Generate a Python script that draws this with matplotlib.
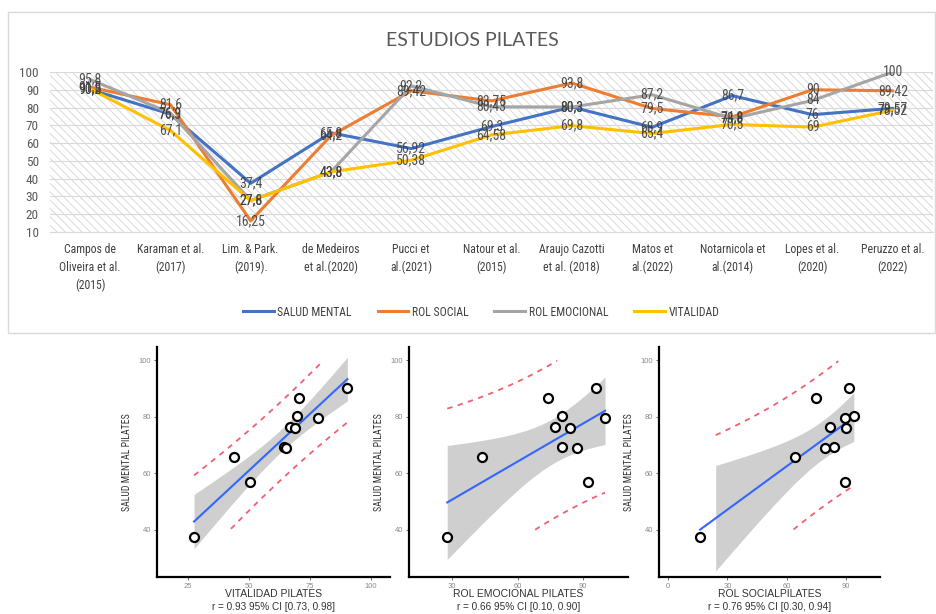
import numpy as np
import matplotlib
matplotlib.use("Agg")
import matplotlib.pyplot as plt
from matplotlib import font_manager as fm
from matplotlib.patches import Rectangle
from matplotlib.lines import Line2D


def first_font(*names):
    available = {f.name for f in fm.fontManager.ttflist}
    for n in names:
        if n in available:
            return n
    return "DejaVu Sans"


NARROW = first_font("Liberation Sans Narrow", "Roboto Condensed", "Liberation Sans")
SANS = first_font("Liberation Sans", "Arimo", "DejaVu Sans")
TITLE = first_font("Lato", "Open Sans", "Liberation Sans")

# ---- data -------------------------------------------------------------
estudios = [
    "Campos de\nOliveira et al.\n(2015)",
    "Karaman et al.\n(2017)",
    "Lim. & Park.\n(2019).",
    "de Medeiros\net al.(2020)",
    "Pucci et\nal.(2021)",
    "Natour et al.\n(2015)",
    "Araujo Cazotti\net al. (2018)",
    "Matos et\nal.(2022)",
    "Notarnicola et\nal.(2014)",
    "Lopes et al.\n(2020)",
    "Peruzzo et al.\n(2022)",
]
salud_mental = [90.2, 76.3, 37.4, 65.8, 56.92, 69.3, 80.3, 68.9, 86.7, 76, 79.57]
rol_social = [91.5, 81.6, 16.25, 64.2, 89.42, 83.75, 93.8, 79.5, 74.8, 90, 89.42]
rol_emocional = [95.8, 76.9, 27.8, 43.8, 92.2, 80.43, 80.3, 87.2, 73.8, 84, 100]
vitalidad = [90.5, 67.1, 27.6, 43.8, 50.38, 64.58, 69.8, 65.4, 70.5, 69, 78.52]

series_names = ["SALUD MENTAL", "ROL SOCIAL", "ROL EMOCIONAL", "VITALIDAD"]
series_values = [salud_mental, rol_social, rol_emocional, vitalidad]
series_colors = ["#4472C4", "#ED7D31", "#A5A5A5", "#FFC000"]

# correlation summaries printed under each scatter panel
r_labels = [
    "r = 0.93 95% CI [0.73, 0.98]",
    "r = 0.66 95% CI [0.10, 0.90]",
    "r = 0.76 95% CI [0.30, 0.94]",
]

W, H = 937, 614


def fx(px):
    return px / W


def fy(py):
    return 1 - py / H


fig = plt.figure(figsize=(W / 100, H / 100), dpi=100)
fig.patch.set_facecolor("white")

# ---- top panel: line chart -------------------------------------------
fig.patches.append(Rectangle((fx(8), fy(333)), fx(935) - fx(8), fy(12) - fy(333),
                             transform=fig.transFigure, fill=False,
                             edgecolor="#D9D9D9", lw=1.0))
fig.text(fx(472), fy(40), "ESTUDIOS PILATES", ha="center", va="center",
         fontsize=14, color="#595959", family=TITLE)

ax = fig.add_axes([fx(50), fy(232), fx(933) - fx(50), fy(72) - fy(232)])
xpos = np.arange(len(estudios))
ax.set_xlim(-0.5, len(estudios) - 0.5)
ax.set_ylim(10, 100)

plt.rcParams["hatch.linewidth"] = 0.6
ax.add_patch(Rectangle((0, 0), 1, 1, transform=ax.transAxes, facecolor="none",
                       edgecolor="#D4D4D4", hatch="\\\\\\\\", lw=0, zorder=0))

ax.set_yticks(np.arange(10, 101, 10))
ax.yaxis.grid(True, color="#D9D9D9", lw=0.8, zorder=1)
ax.set_axisbelow(True)
for side in ["top", "right", "left"]:
    ax.spines[side].set_visible(False)
ax.spines["bottom"].set_color("#D9D9D9")
ax.tick_params(axis="y", length=0, labelsize=9.5, labelcolor="#595959", pad=8)
ax.tick_params(axis="x", length=0, labelsize=8.5, labelcolor="#404040", pad=8)
ax.set_xticks(xpos)
ax.set_xticklabels(estudios, linespacing=1.45)
for lab in ax.get_xticklabels() + ax.get_yticklabels():
    lab.set_family(NARROW)

for name, vals, col in zip(series_names, series_values, series_colors):
    ax.plot(xpos, vals, color=col, lw=2.2, zorder=3, solid_joinstyle="round",
            solid_capstyle="round")
for vals in series_values:
    for xi, v in zip(xpos, vals):
        ax.text(xi, v, f"{v:g}".replace(".", ","), ha="center", va="center",
                fontsize=10, family=NARROW, color="#404040", alpha=0.9, zorder=5)

handles = [Line2D([], [], color=c, lw=2.2) for c in series_colors]
fig.legend(handles, series_names, loc="center", bbox_to_anchor=(fx(481), fy(312)),
           ncol=4, frameon=False, handlelength=2.6, handletextpad=0.3,
           columnspacing=2.2, prop={"family": NARROW, "size": 8.5},
           labelcolor="#404040")

# ---- bottom panels: scatter with linear fit ---------------------------
T975_DF9 = 2.262157
y_sm = np.array(salud_mental)
panels = [
    (vitalidad, "VITALIDAD PILATES", [25, 50, 75, 100], (12.4, 108.0), (157, 390)),
    (rol_emocional, "ROL EMOCIONAL PILATES", [30, 60, 90], (10.3, 110.5), (409, 628)),
    (rol_social, "ROL SOCIALPILATES", [0, 30, 60, 90], (-4.5, 107.0), (659, 880)),
]
for (xs, xlabel, xticks, xlim, (left, right)), r_text in zip(panels, r_labels):
    xv = np.array(xs)
    n = len(xv)
    sax = fig.add_axes([fx(left), fy(577), fx(right) - fx(left), fy(347) - fy(577)])
    sax.set_xlim(*xlim)
    sax.set_ylim(23.4, 104.6)

    b1, b0 = np.polyfit(xv, y_sm, 1)
    grid = np.linspace(xv.min(), xv.max(), 80)
    yhat = b0 + b1 * grid
    s = np.sqrt(np.sum((y_sm - (b0 + b1 * xv)) ** 2) / (n - 2))
    sxx = np.sum((xv - xv.mean()) ** 2)
    ci = T975_DF9 * s * np.sqrt(1 / n + (grid - xv.mean()) ** 2 / sxx)
    pi = T975_DF9 * s * np.sqrt(1 + 1 / n + (grid - xv.mean()) ** 2 / sxx)

    keep = (yhat - ci) >= 25
    sax.fill_between(grid[keep], (yhat - ci)[keep], (yhat + ci)[keep],
                     color="#CFCFCF", lw=0, zorder=1)
    sax.plot(grid, yhat, color="#3366FF", lw=1.5, zorder=2)
    for bound in (yhat + pi, yhat - pi):
        ok = keep & (bound >= 40) & (bound <= 100)
        sax.plot(np.where(ok, grid, np.nan), np.where(ok, bound, np.nan),
                 color="#F06070", lw=1.3, ls=(0, (3, 3)), zorder=2)
    sax.scatter(xv, y_sm, s=42, facecolor="white", edgecolor="black",
                linewidth=1.6, zorder=4)

    sax.set_xticks(xticks)
    sax.set_yticks([40, 60, 80, 100])
    for side in ["top", "right"]:
        sax.spines[side].set_visible(False)
    for side in ["left", "bottom"]:
        sax.spines[side].set_linewidth(1.6)
        sax.spines[side].set_color("black")
    sax.tick_params(length=2.5, width=0.6, color="#555555", labelsize=5.5,
                    labelcolor="#8A8A8A", pad=1.5)
    for lab in sax.get_xticklabels() + sax.get_yticklabels():
        lab.set_family(SANS)

    cx = fx((left + right) / 2)
    fig.text(cx, fy(594), xlabel, ha="center", va="center", fontsize=7.5,
             family=SANS, color="#333333")
    fig.text(cx, fy(607), r_text, ha="center", va="center", fontsize=7.2,
             family=SANS, color="#333333")
    fig.text(fx(left - 30), fy(462), "SALUD MENTAL PILATES", rotation=90,
             ha="center", va="center", fontsize=7, family=NARROW, color="#333333")

fig.savefig("out.png", dpi=100)
